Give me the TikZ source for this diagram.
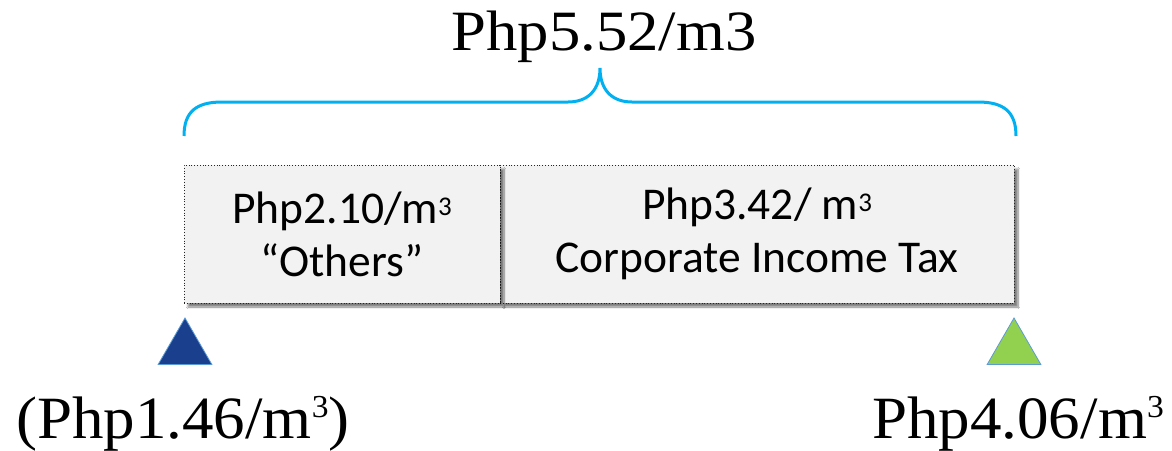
\documentclass[tikz,border=0pt]{standalone}
\usepackage{fontspec}
\setmainfont{Liberation Serif}
\newfontfamily\boxfont{Carlito}
\usetikzlibrary{shapes.geometric,shadows.blur}
\definecolor{bracecol}{HTML}{00B0F0}
\definecolor{boxgray}{HTML}{F2F2F2}
\definecolor{lowblue}{HTML}{1A3F8C}
\definecolor{highgreen}{HTML}{92D050}
\definecolor{edgeblue}{HTML}{5B9BD5}
\newcommand\cubeS{\raisebox{8pt}{\fontsize{27pt}{27pt}\selectfont 3}}
\newcommand\cubeL{\raisebox{21pt}{\fontsize{32pt}{32pt}\selectfont 3}}
\begin{document}
\begin{tikzpicture}[x=1pt,y=-1pt,
  costbox/.style={rectangle, draw=black!85, dash pattern=on 1pt off 1.8pt,
    line width=0.9pt, fill=boxgray, inner sep=0pt, minimum height=138pt,
    align=center, font=\boxfont\fontsize{45.5}{53}\selectfont,
    blur shadow={shadow xshift=4pt, shadow yshift=-4pt, shadow blur steps=8, shadow opacity=50}},
  marker/.style={regular polygon, regular polygon sides=3, minimum size=62pt,
    inner sep=0pt, draw=edgeblue, line width=0.8pt},
  biglabel/.style={anchor=base, inner sep=0pt, font=\fontsize{60}{62}\selectfont},
  bracestyle/.style={draw=bracecol, line width=3pt}]
\fill[white] (0,0) rectangle (1172,450);
\useasboundingbox (0,0) rectangle (1172,450);

% title
\node[biglabel, font=\fontsize{57}{60}\selectfont] (total) at (604,50) {\scalebox{1.1}[1]{Php5.52/m3}};

% brace
\coordinate (bl) at (184,136);
\coordinate (br) at (1016,136);
\coordinate (tip) at (600,68);
\draw[bracestyle] (bl) .. controls (184,112) and (196,102) .. (222,102) -- (568,102)
  .. controls (588,102) and (600,90) .. (tip)
  .. controls (600,90) and (612,102) .. (632,102) -- (978,102)
  .. controls (1004,102) and (1016,112) .. (br);

% boxes (right first so the left box's shadow falls on it)
\node[costbox, minimum width=514pt] (cit) at (757,234) {Php3.42/ m\cubeS\\Corporate Income Tax};
\node[costbox, minimum width=316pt] (others) at (342,234) {Php2.10/m\cubeS\\“Others”};

% markers
\node[marker, fill=lowblue] (low) at (185,349) {};
\node[marker, fill=highgreen] (high) at (1014,349) {};

% bottom labels
\node[biglabel] (lowtext) at (183,438) {\scalebox{1.05}[1]{(Php1.46/m\cubeL)}};
\node[biglabel] (hightext) at (1018,438) {\scalebox{1.05}[1]{Php4.06/m\cubeL}};
\end{tikzpicture}
\end{document}
